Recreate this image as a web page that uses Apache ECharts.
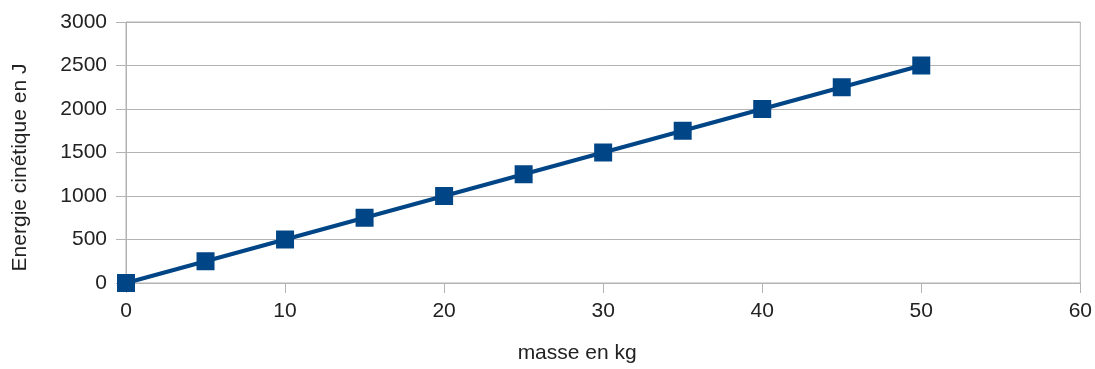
<!DOCTYPE html>
<html>
<head>
<meta charset="utf-8">
<script src="https://cdn.jsdelivr.net/npm/echarts@6/dist/echarts.min.js"></script>
<style>
  html, body { margin: 0; padding: 0; background: #fff; }
</style>
</head>
<body>
<div id="chart" style="width:1095px;height:369px;"></div>
<script>
// masse (kg) et énergie cinétique (J)
const masses = [0, 5, 10, 15, 20, 25, 30, 35, 40, 45, 50];
const energies = [0, 250, 500, 750, 1000, 1250, 1500, 1750, 2000, 2250, 2500];
const xTitle = "masse en kg";
const yTitle = "Energie cinétique en J";

const points = masses.map((m, i) => [m, energies[i]]);
const gridColor = "#b3b3b3";
const textColor = "#222";
const font = "Liberation Sans";

const chart = echarts.init(document.getElementById("chart"));
chart.setOption({
  animation: false,
  grid: {
    left: 126, right: 13, top: 22, bottom: 82,
    show: true, borderColor: gridColor, borderWidth: 1
  },
  xAxis: {
    type: "value",
    min: 0, max: 60, interval: 10,
    name: xTitle,
    nameLocation: "middle",
    nameGap: 60,
    nameTextStyle: { color: textColor, fontSize: 21, fontFamily: font, padding: [0, 52, 0, 0] },
    axisLine: { show: true, lineStyle: { color: gridColor } },
    axisTick: { show: true, length: 10, lineStyle: { color: gridColor } },
    axisLabel: { color: textColor, fontSize: 21, fontFamily: font, margin: 18 },
    splitLine: { show: false }
  },
  yAxis: {
    type: "value",
    min: 0, max: 3000, interval: 500,
    name: yTitle,
    nameLocation: "middle",
    nameGap: 95,
    nameTextStyle: { color: textColor, fontSize: 21, fontFamily: font, padding: [0, 30, 0, 0] },
    axisLine: { show: true, lineStyle: { color: gridColor } },
    axisTick: { show: true, length: 10, lineStyle: { color: gridColor } },
    axisLabel: {
      color: textColor, fontSize: 21, fontFamily: font, margin: 19,
      formatter: (v) => String(v)
    },
    splitLine: { show: true, lineStyle: { color: gridColor } }
  },
  series: [{
    type: "line",
    data: points,
    symbol: "rect",
    symbolSize: 18,
    lineStyle: { color: "#004586", width: 4 },
    itemStyle: { color: "#004586" }
  }]
});
</script>
</body>
</html>
